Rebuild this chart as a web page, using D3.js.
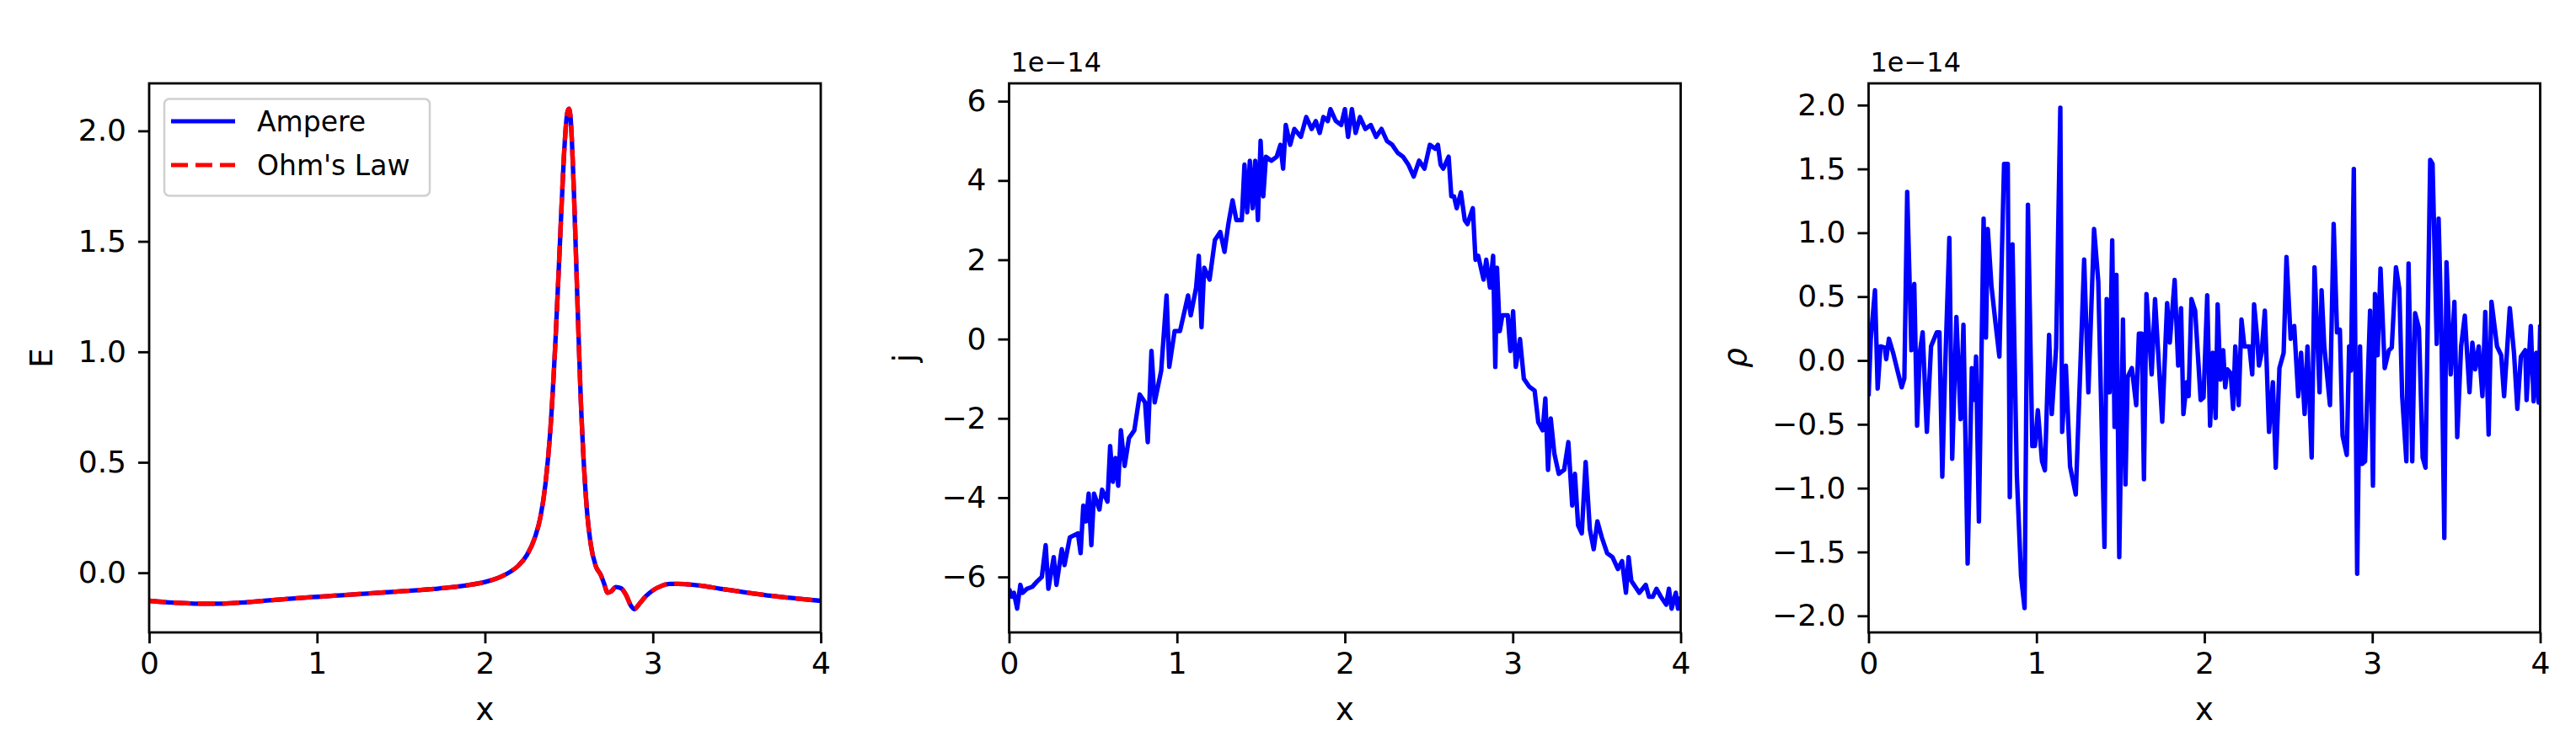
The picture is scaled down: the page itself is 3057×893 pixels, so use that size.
<!DOCTYPE html>
<html>
<head>
<meta charset="utf-8">
<script src="https://cdn.jsdelivr.net/npm/d3@7"></script>
<style>
	body { margin: 0; background: #fff; }
	text { font-family: "DejaVu Sans", sans-serif; }
</style>
</head>
<body>
<svg id="fig" width="3057" height="893"></svg>
<script>
/*--------------------------------
---data---
---------------------------------*/

//shared x ticks
var x_ticks = [0, 1, 2, 3, 4];

//panel 1 - E from Ampere and from Ohm's law
var e_x = [0, 0.1, 0.2, 0.3, 0.4, 0.5, 0.6, 0.7, 0.8, 0.9, 1.0, 1.1, 1.2, 1.3, 1.4, 1.5, 1.6, 1.7, 1.8, 1.9, 2.0,
	2.05, 2.1, 2.15, 2.2, 2.25, 2.3,
	2.33, 2.36, 2.39, 2.42, 2.45, 2.47, 2.49, 2.5, 2.51, 2.53, 2.55, 2.57, 2.59, 2.61, 2.63, 2.66, 2.69, 2.71, 2.73, 2.75, 2.78, 2.81, 2.84, 2.87, 2.89, 2.92, 2.96,
	3.0, 3.05, 3.1, 3.15, 3.2,
	3.3, 3.4, 3.5, 3.6, 3.7, 3.8, 3.9, 4.0];
var e_ampere = [-0.127, -0.133, -0.137, -0.140, -0.140, -0.137, -0.132, -0.126, -0.120, -0.114, -0.109, -0.104, -0.099, -0.094, -0.089, -0.084, -0.079, -0.073, -0.066, -0.056, -0.042,
	-0.031, -0.016, 0.004, 0.033, 0.080, 0.165,
	0.25, 0.40, 0.65, 1.05, 1.55, 1.88, 2.08, 2.10, 2.06, 1.72, 1.25, 0.80, 0.48, 0.26, 0.13, 0.03, -0.01, -0.05, -0.09, -0.085, -0.065, -0.07, -0.10, -0.15, -0.165, -0.14, -0.105,
	-0.08, -0.06, -0.05, -0.05, -0.052,
	-0.06, -0.072, -0.083, -0.094, -0.104, -0.112, -0.120, -0.127];
var e_ohm = [-0.127, -0.133, -0.137, -0.140, -0.140, -0.137, -0.132, -0.126, -0.120, -0.114, -0.109, -0.104, -0.099, -0.094, -0.089, -0.084, -0.079, -0.073, -0.066, -0.056, -0.042,
	-0.031, -0.016, 0.004, 0.033, 0.080, 0.165,
	0.25, 0.40, 0.65, 1.05, 1.55, 1.88, 2.08, 2.10, 2.06, 1.72, 1.25, 0.80, 0.48, 0.26, 0.13, 0.03, -0.01, -0.05, -0.09, -0.085, -0.065, -0.07, -0.10, -0.15, -0.165, -0.14, -0.105,
	-0.08, -0.06, -0.05, -0.05, -0.052,
	-0.06, -0.072, -0.083, -0.094, -0.104, -0.112, -0.120, -0.127];
var e_ticks = [0, 0.5, 1.0, 1.5, 2.0];

//panel 2 - j (units of 1e-14)
var j_x = [0.000, 0.016, 0.029, 0.048, 0.067, 0.080, 0.106, 0.138, 0.170, 0.195,
	0.218, 0.234, 0.266, 0.282, 0.314, 0.330, 0.362, 0.410, 0.426, 0.442,
	0.458, 0.474, 0.490, 0.506, 0.538, 0.554, 0.586, 0.602, 0.618, 0.634,
	0.650, 0.666, 0.688, 0.714, 0.746, 0.778, 0.810, 0.826, 0.848, 0.867,
	0.906, 0.938, 0.954, 0.986, 1.018, 1.050, 1.066, 1.082, 1.114, 1.130,
	1.146, 1.162, 1.194, 1.226, 1.258, 1.283, 1.306, 1.331, 1.354, 1.386,
	1.402, 1.418, 1.434, 1.450, 1.466, 1.482, 1.498, 1.514, 1.530, 1.562,
	1.594, 1.616, 1.632, 1.648, 1.674, 1.699, 1.738, 1.770, 1.802, 1.827,
	1.850, 1.872, 1.898, 1.914, 1.946, 1.978, 2.000, 2.019, 2.042, 2.064,
	2.090, 2.122, 2.154, 2.186, 2.218, 2.250, 2.282, 2.314, 2.346, 2.378,
	2.410, 2.442, 2.474, 2.506, 2.538, 2.554, 2.570, 2.586, 2.618, 2.634,
	2.650, 2.666, 2.691, 2.714, 2.730, 2.762, 2.778, 2.794, 2.810, 2.826,
	2.842, 2.864, 2.883, 2.896, 2.906, 2.922, 2.938, 2.970, 2.986, 3.002,
	3.018, 3.043, 3.066, 3.098, 3.130, 3.152, 3.178, 3.194, 3.210, 3.226,
	3.248, 3.274, 3.306, 3.331, 3.354, 3.370, 3.389, 3.411, 3.434, 3.459,
	3.482, 3.504, 3.530, 3.562, 3.594, 3.626, 3.651, 3.674, 3.690, 3.706,
	3.722, 3.754, 3.792, 3.811, 3.834, 3.856, 3.882, 3.914, 3.930, 3.946,
	3.971, 3.984, 4.000];
var j_val = [-6.3, -6.5, -6.4, -6.8, -6.2, -6.4, -6.3, -6.25, -6.1, -6.0,
	-5.2, -6.3, -5.5, -6.2, -5.3, -5.7, -5.0, -4.9, -5.4, -4.2,
	-4.6, -3.9, -5.2, -3.9, -4.3, -3.8, -4.1, -2.7, -3.6, -3.0,
	-3.7, -2.3, -3.2, -2.5, -2.3, -1.4, -1.6, -2.6, -0.3, -1.6,
	-0.8, 1.1, -0.7, 0.2, 0.2, 0.8, 1.1, 0.6, 1.3, 2.1,
	0.3, 1.8, 1.5, 2.5, 2.7, 2.2, 2.9, 3.5, 3.0, 3.0,
	4.4, 3.2, 4.5, 3.3, 4.5, 3.0, 5.0, 3.6, 4.6, 4.5,
	4.6, 4.9, 4.3, 5.4, 4.9, 5.3, 5.1, 5.6, 5.3, 5.5,
	5.2, 5.6, 5.5, 5.8, 5.5, 5.4, 5.8, 5.1, 5.8, 5.2,
	5.6, 5.3, 5.4, 5.1, 5.3, 5.0, 4.9, 4.7, 4.6, 4.4,
	4.1, 4.5, 4.3, 4.9, 4.8, 4.9, 4.4, 4.3, 4.6, 3.6,
	3.6, 3.3, 3.7, 3.0, 2.9, 3.3, 2.0, 2.1, 1.8, 1.5,
	2.0, 1.3, 2.1, -0.7, 1.8, 0.2, 0.6, 0.6, -0.3, 0.7,
	-0.7, 0.0, -1.0, -1.2, -1.3, -2.1, -2.3, -1.5, -3.3, -2.0,
	-2.9, -3.4, -3.3, -2.6, -4.2, -3.4, -4.7, -4.9, -3.1, -4.8,
	-5.3, -4.6, -5.0, -5.4, -5.5, -5.8, -5.6, -6.4, -5.5, -6.1,
	-6.2, -6.4, -6.2, -6.5, -6.5, -6.3, -6.5, -6.7, -6.3, -6.8,
	-6.4, -6.8, -6.5];
var j_ticks = [-6, -4, -2, 0, 2, 4, 6];

//panel 3 - rho (units of 1e-14)
var rho_x = [0.000, 0.013, 0.038, 0.054, 0.071, 0.096, 0.105, 0.121, 0.146, 0.172,
	0.197, 0.213, 0.230, 0.255, 0.272, 0.289, 0.305, 0.322, 0.347, 0.372,
	0.406, 0.422, 0.439, 0.456, 0.481, 0.498, 0.523, 0.548, 0.565, 0.590,
	0.615, 0.632, 0.640, 0.657, 0.685, 0.699, 0.710, 0.732, 0.757, 0.779,
	0.807, 0.829, 0.841, 0.857, 0.883, 0.908, 0.929, 0.949, 0.975, 0.991,
	1.008, 1.033, 1.050, 1.075, 1.091, 1.117, 1.142, 1.153, 1.175, 1.200,
	1.234, 1.284, 1.309, 1.343, 1.368, 1.405, 1.418, 1.435, 1.451, 1.465,
	1.476, 1.493, 1.515, 1.530, 1.543, 1.568, 1.594, 1.610, 1.627, 1.640,
	1.655, 1.686, 1.706, 1.749, 1.778, 1.794, 1.823, 1.844, 1.861, 1.875,
	1.895, 1.906, 1.923, 1.945, 1.978, 1.995, 2.017, 2.034, 2.050, 2.067,
	2.079, 2.095, 2.112, 2.124, 2.137, 2.157, 2.171, 2.184, 2.204, 2.221,
	2.238, 2.268, 2.285, 2.296, 2.313, 2.325, 2.341, 2.360, 2.385, 2.408,
	2.425, 2.447, 2.472, 2.489, 2.514, 2.535, 2.559, 2.576, 2.597, 2.614,
	2.639, 2.656, 2.686, 2.698, 2.714, 2.748, 2.770, 2.790, 2.807, 2.823,
	2.848, 2.862, 2.873, 2.890, 2.910, 2.927, 2.940, 2.957, 2.987, 3.004,
	3.016, 3.032, 3.049, 3.074, 3.099, 3.116, 3.141, 3.161, 3.178, 3.203,
	3.216, 3.238, 3.255, 3.278, 3.300, 3.317, 3.345, 3.359, 3.384, 3.395,
	3.412, 3.429, 3.442, 3.467, 3.489, 3.506, 3.529, 3.551, 3.579, 3.596,
	3.613, 3.634, 3.656, 3.673, 3.693, 3.710, 3.743, 3.768, 3.785, 3.819,
	3.844, 3.864, 3.885, 3.911, 3.919, 3.944, 3.961, 3.977, 3.991, 4.000];
var rho_val = [-0.28, 0.17, 0.55, -0.22, 0.11, 0.10, 0.01, 0.17, 0.06, -0.08,
	-0.21, -0.14, 1.32, 0.08, 0.60, -0.51, 0.06, 0.22, -0.56, 0.11,
	0.22, 0.22, -0.91, -0.06, 0.96, -0.77, 0.34, -0.46, 0.28, -1.59,
	-0.06, -0.31, 0.03, -1.26, 1.11, 0.18, 1.03, 0.58, 0.28, 0.03,
	1.54, 1.54, -1.07, 0.91, -0.90, -1.69, -1.94, 1.22, -0.67, -0.67,
	-0.39, -0.79, -0.86, 0.20, -0.42, 0.10, 1.98, -0.56, -0.04, -0.83,
	-1.05, 0.79, -0.25, 1.03, 0.62, -1.46, 0.48, -0.25, 0.94, -0.52,
	0.67, -1.54, 0.32, -0.97, -0.13, -0.06, -0.35, 0.21, 0.21, -0.93,
	0.52, -0.11, 0.48, -0.48, 0.45, 0.14, 0.63, -0.04, 0.41, -0.42,
	-0.17, -0.28, 0.48, 0.39, -0.31, -0.29, 0.51, -0.51, 0.06, -0.45,
	0.44, -0.15, 0.08, -0.21, -0.07, -0.10, -0.38, 0.11, -0.35, 0.32,
	0.11, 0.11, -0.11, 0.44, 0.20, -0.04, 0.06, 0.39, -0.56, -0.17,
	-0.84, -0.06, 0.06, 0.81, 0.17, 0.27, -0.28, 0.06, -0.42, 0.11,
	-0.76, 0.73, -0.25, 0.55, 0.11, -0.35, 1.07, 0.22, 0.24, -0.59,
	-0.74, 0.11, -0.08, 1.50, -1.67, 0.11, -0.81, -0.79, 0.39, -0.98,
	0.52, 0.04, 0.72, -0.06, 0.08, 0.10, 0.73, 0.56, -0.28, -0.79,
	0.76, -0.79, 0.37, 0.25, -0.76, -0.84, 1.57, 1.54, 0.13, 1.11,
	0.22, -1.39, 0.77, -0.11, 0.46, -0.60, 0.11, 0.35, -0.25, 0.14,
	-0.07, 0.11, -0.28, 0.38, -0.58, 0.46, 0.11, 0.04, -0.28, 0.41,
	0.06, -0.38, 0.03, 0.08, -0.31, 0.27, -0.32, 0.06, -0.33, 0.28];
var rho_ticks = [-2.0, -1.5, -1.0, -0.5, 0.0, 0.5, 1.0, 1.5, 2.0];

//legend entries
var legend_names = ["Ampere", "Ohm's Law"];


/*--------------------------------
---layout---
---------------------------------*/
var ax_left = [177, 1197.5, 2217.5];
var ax_top = 99, ax_w = 797, ax_h = 652;
var tick_font = 36, label_font = 37;

var svg = d3.select("#fig");
svg.append("rect").attr("width", 3057).attr("height", 893).attr("fill", "#fff");

/*--draw one subplot--*/
function draw_panel(idx, opt) {
	var g = svg.append("g")
		.attr("transform", "translate(" + ax_left[idx] + "," + ax_top + ")");

	var x = d3.scaleLinear().domain([0, 4]).range([0, ax_w]);
	var y = d3.scaleLinear().domain(opt.ydom).range([ax_h, 0]);

	//clip lines to the axes box
	svg.append("clipPath").attr("id", "clip" + idx)
		.append("rect").attr("width", ax_w).attr("height", ax_h);
	var plot = g.append("g").attr("clip-path", "url(#clip" + idx + ")");

	opt.series.forEach(function (s) {
		var line = d3.line()
			.x(function (d) { return x(d[0]); })
			.y(function (d) { return y(d[1]); })
			.curve(s.curve || d3.curveLinear);
		plot.append("path")
			.datum(d3.zip(s.xs, s.ys))
			.attr("d", line)
			.style("fill", "none")
			.style("stroke", s.color)
			.style("stroke-width", 5.3)
			.style("stroke-linejoin", "round")
			.style("stroke-dasharray", s.dash || null);
	});

	//axes
	var xa = g.append("g")
		.attr("transform", "translate(0," + ax_h + ")")
		.call(d3.axisBottom(x).tickValues(x_ticks).tickFormat(d3.format("d")).tickSize(13).tickPadding(10));
	var ya = g.append("g")
		.call(d3.axisLeft(y).tickValues(opt.ticks).tickFormat(d3.format(opt.fmt)).tickSize(13).tickPadding(14));

	[xa, ya].forEach(function (a) {
		a.select(".domain").remove();
		a.selectAll(".tick line").attr("stroke", "#000").attr("stroke-width", 2.8);
		a.selectAll(".tick text")
			.attr("fill", "#000")
			.attr("font-size", tick_font)
			.attr("font-family", "DejaVu Sans");
	});

	//spines
	g.append("rect")
		.attr("width", ax_w).attr("height", ax_h)
		.style("fill", "none").style("stroke", "#000").style("stroke-width", 2.8);

	//x label
	g.append("text")
		.attr("x", ax_w / 2).attr("y", 855 - ax_top)
		.attr("text-anchor", "middle")
		.attr("font-size", label_font)
		.text("x");

	//y label, placed left of the tick labels
	var bb = ya.node().getBBox();
	var lab_x = bb.x - 22 - label_font * 0.236;
	g.append("text")
		.attr("transform", "translate(" + lab_x + "," + (ax_h / 2) + ") rotate(-90)")
		.attr("text-anchor", "middle")
		.attr("font-size", label_font)
		.attr("font-style", opt.italic ? "italic" : null)
		.text(opt.ylabel);

	//offset text
	if (opt.offset) {
		g.append("text")
			.attr("x", 2).attr("y", 85 - ax_top)
			.attr("font-size", 32)
			.text(opt.offset);
	}
	return g;
}

/*--panel 1--*/
var g1 = draw_panel(0, {
	ydom: [-0.27, 2.215], ticks: e_ticks, fmt: ".1f", ylabel: "E",
	series: [
		{ xs: e_x, ys: e_ampere, color: "#0000ff", curve: d3.curveMonotoneX },
		{ xs: e_x, ys: e_ohm, color: "#ff0000", dash: "20,9", curve: d3.curveMonotoneX }
	]
});

/*--panel 2--*/
draw_panel(1, {
	ydom: [-7.40, 6.45], ticks: j_ticks, fmt: "d", ylabel: "j", offset: "1e\u221214",
	series: [{ xs: j_x, ys: j_val, color: "#0000ff" }]
});

/*--panel 3--*/
draw_panel(2, {
	ydom: [-2.13, 2.17], ticks: rho_ticks, fmt: ".1f", ylabel: "\u03c1", italic: true, offset: "1e\u221214",
	series: [{ xs: rho_x, ys: rho_val, color: "#0000ff" }]
});

/*--legend in panel 1--*/
var leg = g1.append("g").attr("transform", "translate(" + (195 - ax_left[0]) + "," + (117.5 - ax_top) + ")");
leg.append("rect")
	.attr("width", 315).attr("height", 115).attr("rx", 6)
	.style("fill", "#fff").style("fill-opacity", 0.8)
	.style("stroke", "#d0d0d0").style("stroke-width", 2.5);
var leg_styles = [{ color: "#0000ff", dash: null }, { color: "#ff0000", dash: "20,9" }];
legend_names.forEach(function (name, i) {
	var yy = 26.5 + i * 52;
	leg.append("line")
		.attr("x1", 8).attr("x2", 84).attr("y1", yy).attr("y2", yy)
		.style("stroke", leg_styles[i].color).style("stroke-width", 5)
		.style("stroke-dasharray", leg_styles[i].dash);
	leg.append("text")
		.attr("x", 110).attr("y", yy).attr("dy", "0.35em")
		.attr("font-size", 33)
		.text(name);
});
</script>
</body>
</html>
